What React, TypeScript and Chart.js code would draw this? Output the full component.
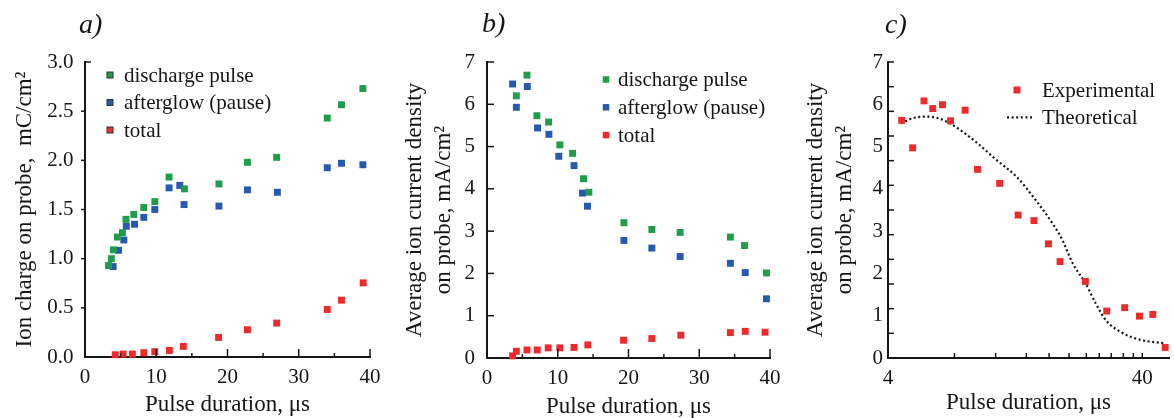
import React, { useEffect, useRef } from 'react';
import { Chart, registerables } from 'chart.js';

Chart.register(...registerables);

const SERIF = "'Liberation Serif', 'DejaVu Serif', 'Times New Roman', serif";
const INK = '#161616';
const GREEN = '#1f9d4b';
const BLUE = '#2659b1';
const RED = '#ee2a2a';

// ---------- Panel a: ion charge on probe (mC/cm²) ----------
const aDischargeX = [3.3, 3.7, 4.0, 4.55, 5.25, 5.75, 6.85, 8.25, 9.8, 11.8, 13.95, 18.8, 22.8, 26.9, 34.0, 36.0, 39.0];
const aDischargeY = [0.93, 1.0, 1.09, 1.22, 1.265, 1.4, 1.45, 1.52, 1.58, 1.83, 1.71, 1.76, 1.98, 2.03, 2.43, 2.565, 2.73];
const aAfterglowX = [3.95, 4.7, 5.45, 5.8, 6.95, 8.25, 9.8, 11.8, 13.3, 13.9, 18.8, 22.8, 27.0, 34.0, 36.0, 39.0];
const aAfterglowY = [0.92, 1.085, 1.19, 1.33, 1.35, 1.42, 1.5, 1.72, 1.745, 1.55, 1.535, 1.7, 1.675, 1.925, 1.97, 1.955];
const aTotalX = [4.25, 5.35, 6.65, 8.25, 9.8, 11.85, 13.8, 18.75, 22.8, 26.9, 34.0, 36.0, 39.05];
const aTotalY = [0.023, 0.03, 0.03, 0.044, 0.054, 0.067, 0.108, 0.199, 0.277, 0.345, 0.483, 0.578, 0.754];

// ---------- Panel b: average ion current density (mA/cm²) ----------
const bDischargeX = [4.15, 5.65, 7.05, 8.7, 10.3, 12.1, 13.65, 14.4, 19.35, 23.3, 27.3, 34.4, 36.4, 39.5];
const bDischargeY = [6.2, 6.69, 5.73, 5.58, 5.04, 4.84, 4.24, 3.92, 3.2, 3.04, 2.97, 2.86, 2.66, 2.01];
const bAfterglowX = [3.62, 4.15, 5.7, 7.15, 8.75, 10.15, 12.3, 13.5, 14.2, 19.35, 23.3, 27.3, 34.4, 36.5, 39.5];
const bAfterglowY = [6.48, 5.93, 6.42, 5.44, 5.29, 4.77, 4.55, 3.9, 3.59, 2.78, 2.6, 2.4, 2.24, 2.02, 1.4];
const bTotalX = [3.62, 4.15, 5.65, 7.1, 8.65, 10.3, 12.3, 14.25, 19.3, 23.3, 27.4, 34.4, 36.5, 39.3];
const bTotalY = [0.05, 0.16, 0.19, 0.19, 0.24, 0.24, 0.25, 0.31, 0.42, 0.46, 0.54, 0.6, 0.63, 0.61];

// ---------- Panel c: experimental vs theoretical (log x) ----------
const cExpX = [4.53, 5.0, 5.54, 6.0, 6.55, 7.05, 8.04, 9.0, 11.0, 13.0, 15.0, 17.1, 19.0, 23.9, 29.0, 34.1, 39.0, 44.0, 49.2];
const cExpY = [5.62, 4.97, 6.08, 5.9, 5.99, 5.61, 5.86, 4.46, 4.13, 3.38, 3.25, 2.7, 2.28, 1.81, 1.11, 1.19, 0.99, 1.03, 0.25];
const cTheoX = [4.5, 5.0, 5.7, 6.3, 7.0, 8.7, 10.7, 12.8, 14.9, 17.7, 19.4, 21.3, 23.9, 26.2, 28.7, 33.5, 39.3, 45.3, 48.9];
const cTheoY = [5.55, 5.67, 5.71, 5.67, 5.55, 5.15, 4.68, 4.29, 3.81, 3.19, 2.79, 2.24, 1.77, 1.3, 0.9, 0.59, 0.43, 0.37, 0.35];

// tick labels and tick marks
const abXTickMarks = [5, 10, 15, 20, 25, 30, 35, 40];
const aYTickMarks = [0.5, 1, 1.5, 2, 2.5, 3];
const bYTickMarks = [1, 2, 3, 4, 5, 6, 7];
const cXTickLabels = [4, 40];
const cXTickMarks = [7.3, 10.6, 14.0, 17.2, 20.6, 24.1, 27.1, 30.2, 33.7, 36.9, 40];
const cYTickCount = 12;

const toPts = (xs: number[], ys: number[]) => xs.map((x, i) => ({ x, y: ys[i] }));

type LegendItem = { label: string; color: string; kind: 'rect' | 'dots'; outline?: boolean };
type DecorSpec = {
  label: string;
  labelDx: number;
  labelY: number;
  xTicks: number[][];
  yTicks: number[][];
  legend: LegendItem[];
  legDx: number;
  legDy: number;
  rowH: number;
  textDx: number;
  markSize: number;
};

function makeDecor(spec: DecorSpec) {
  return {
    id: 'decor',
    afterDraw(chart: any) {
      const { ctx, chartArea: ca } = chart;
      const xs = chart.scales.x;
      const ys = chart.scales.y;
      ctx.save();
      ctx.strokeStyle = INK;
      ctx.lineWidth = 1.5;
      for (const [v, len] of spec.xTicks) {
        const px = xs.getPixelForValue(v);
        ctx.beginPath();
        ctx.moveTo(px, ca.bottom);
        ctx.lineTo(px, ca.bottom - len);
        ctx.stroke();
      }
      for (const [v, len] of spec.yTicks) {
        const py = ys.getPixelForValue(v);
        ctx.beginPath();
        ctx.moveTo(ca.left, py);
        ctx.lineTo(ca.left + len, py);
        ctx.stroke();
      }
      ctx.fillStyle = INK;
      ctx.font = `italic 28px ${SERIF}`;
      ctx.textAlign = 'left';
      ctx.textBaseline = 'middle';
      ctx.fillText(spec.label, ca.left + spec.labelDx, spec.labelY);
      ctx.font = `21px ${SERIF}`;
      spec.legend.forEach((it, i) => {
        const mx = ca.left + spec.legDx;
        const my = ca.top + spec.legDy + i * spec.rowH;
        if (it.kind === 'rect') {
          const s = spec.markSize;
          ctx.fillStyle = it.color;
          ctx.fillRect(mx - s / 2, my - s / 2, s, s);
          if (it.outline) {
            ctx.strokeStyle = '#333';
            ctx.lineWidth = 1;
            ctx.strokeRect(mx - s / 2, my - s / 2, s, s);
          }
        } else {
          ctx.strokeStyle = INK;
          ctx.lineWidth = 2.2;
          ctx.setLineDash([2, 2.6]);
          ctx.beginPath();
          ctx.moveTo(mx - 10, my);
          ctx.lineTo(mx + 15, my);
          ctx.stroke();
          ctx.setLineDash([]);
        }
        ctx.fillStyle = INK;
        ctx.fillText(it.label, mx + spec.textDx, my + 1);
      });
      ctx.restore();
    },
  };
}

const pointSet = (label: string, xs: number[], ys: number[], color: string) => ({
  label,
  data: toPts(xs, ys),
  pointStyle: 'rect',
  pointRadius: 4.9,
  pointHoverRadius: 4.9,
  backgroundColor: color,
  borderColor: color,
  borderWidth: 0,
  showLine: false,
  clip: false,
});

const tickFont = { family: SERIF, size: 21 };
const titleFont = { family: SERIF, size: 23, lineHeight: 1.24 };

type Frame = { W: number; H: number; left: number; right: number; top: number; bottom: number };

function axisBase() {
  return {
    grid: { display: false, drawTicks: false },
    border: { display: true, color: INK, width: 2 },
  };
}

function buildConfig(panel: 'a' | 'b' | 'c', frame: Frame): any {
  const xFit = (s: any) => {
    s.height = frame.H - frame.bottom;
  };
  const yFit = (s: any) => {
    s.width = frame.left;
  };
  const common = {
    responsive: false,
    animation: false,
    devicePixelRatio: 1,
    layout: { padding: { left: 0, right: frame.W - frame.right, top: frame.top, bottom: 0 } },
    plugins: { legend: { display: false }, tooltip: { enabled: false }, title: { display: false } },
  };

  if (panel === 'a') {
    return {
      type: 'scatter',
      data: {
        datasets: [
          pointSet('discharge pulse', aDischargeX, aDischargeY, GREEN),
          pointSet('afterglow (pause)', aAfterglowX, aAfterglowY, BLUE),
          pointSet('total', aTotalX, aTotalY, RED),
        ],
      },
      options: {
        ...common,
        scales: {
          x: {
            ...axisBase(),
            type: 'linear',
            min: 0,
            max: 40,
            afterFit: xFit,
            ticks: { stepSize: 10, font: tickFont, color: INK, padding: 8, maxRotation: 0 },
            title: { display: true, text: 'Pulse duration, μs', font: titleFont, color: INK, padding: { top: 0, bottom: -1 } },
          },
          y: {
            ...axisBase(),
            min: 0,
            max: 3,
            afterFit: yFit,
            ticks: { stepSize: 0.5, font: tickFont, color: INK, padding: 11.5, callback: (v: any) => Number(v).toFixed(1) },
            title: { display: true, text: 'Ion charge on probe,  mC/cm²', font: titleFont, color: INK, padding: { top: 11, bottom: 0 } },
          },
        },
      },
      plugins: [
        makeDecor({
          label: 'a)',
          labelDx: -6,
          labelY: 26,
          xTicks: abXTickMarks.map((v) => [v, v % 10 === 0 ? 8 : 4]),
          yTicks: aYTickMarks.map((v) => [v, v === 3 ? 6 : -4]),
          legend: [
            { label: 'discharge pulse', color: GREEN, kind: 'rect', outline: true },
            { label: 'afterglow (pause)', color: BLUE, kind: 'rect', outline: true },
            { label: 'total', color: RED, kind: 'rect', outline: true },
          ],
          legDx: 25,
          legDy: 13,
          rowH: 27.5,
          textDx: 14,
          markSize: 6,
        }),
      ],
    };
  }

  if (panel === 'b') {
    return {
      type: 'scatter',
      data: {
        datasets: [
          pointSet('discharge pulse', bDischargeX, bDischargeY, GREEN),
          pointSet('afterglow (pause)', bAfterglowX, bAfterglowY, BLUE),
          pointSet('total', bTotalX, bTotalY, RED),
        ],
      },
      options: {
        ...common,
        scales: {
          x: {
            ...axisBase(),
            type: 'linear',
            min: 0,
            max: 40,
            afterFit: xFit,
            ticks: { stepSize: 10, font: tickFont, color: INK, padding: 8, maxRotation: 0 },
            title: { display: true, text: 'Pulse duration, μs', font: titleFont, color: INK, padding: { top: 0, bottom: -3 } },
          },
          y: {
            ...axisBase(),
            min: 0,
            max: 7,
            afterFit: yFit,
            ticks: { stepSize: 1, font: tickFont, color: INK, padding: 12 },
            title: {
              display: true,
              text: ['Average ion current density', 'on probe, mA/cm²'],
              font: titleFont,
              color: INK,
              padding: { top: 11, bottom: 0 },
            },
          },
        },
      },
      plugins: [
        makeDecor({
          label: 'b)',
          labelDx: -5,
          labelY: 25,
          xTicks: abXTickMarks.map((v) => [v, v % 10 === 0 ? 9 : 4]),
          yTicks: bYTickMarks.map((v) => [v, 7]),
          legend: [
            { label: 'discharge pulse', color: GREEN, kind: 'rect' },
            { label: 'afterglow (pause)', color: BLUE, kind: 'rect' },
            { label: 'total', color: RED, kind: 'rect' },
          ],
          legDx: 119,
          legDy: 17.5,
          rowH: 27.8,
          textDx: 12,
          markSize: 6.5,
        }),
      ],
    };
  }

  const cYMarks: number[][] = [];
  for (let k = 1; k <= cYTickCount; k++) cYMarks.push([(7 * k) / cYTickCount, 6]);
  return {
    type: 'scatter',
    data: {
      datasets: [
        pointSet('Experimental', cExpX, cExpY, RED),
        {
          label: 'Theoretical',
          data: toPts(cTheoX, cTheoY),
          showLine: true,
          pointRadius: 0,
          borderColor: INK,
          borderWidth: 2.2,
          borderDash: [2, 2.6],
          cubicInterpolationMode: 'monotone',
          fill: false,
          clip: false,
        },
      ],
    },
    options: {
      ...common,
      scales: {
        x: {
          ...axisBase(),
          type: 'logarithmic',
          min: 4,
          max: 51,
          afterFit: xFit,
          afterBuildTicks: (s: any) => {
            s.ticks = cXTickLabels.map((v) => ({ value: v }));
          },
          ticks: { font: tickFont, color: INK, padding: 8, maxRotation: 0, autoSkip: false, callback: (v: any) => String(v) },
          title: { display: true, text: 'Pulse duration, μs', font: titleFont, color: INK, padding: { top: 0, bottom: 1 } },
        },
        y: {
          ...axisBase(),
          min: 0,
          max: 7,
          afterFit: yFit,
          ticks: { stepSize: 1, font: tickFont, color: INK, padding: 5 },
          title: {
            display: true,
            text: ['Average ion current density', 'on probe, mA/cm²'],
            font: { family: SERIF, size: 23, lineHeight: 1.26 },
            color: INK,
            padding: { top: 21, bottom: 0 },
          },
        },
      },
    },
    plugins: [
      makeDecor({
        label: 'c)',
        labelDx: -3,
        labelY: 26,
        xTicks: cXTickMarks.map((v) => [v, 5]),
        yTicks: cYMarks,
        legend: [
          { label: 'Experimental', color: RED, kind: 'rect' },
          { label: 'Theoretical', color: INK, kind: 'dots' },
        ],
        legDx: 129,
        legDy: 28,
        rowH: 27.3,
        textDx: 25,
        markSize: 7,
      }),
    ],
  };
}

function Panel({ panel, x, frame }: { panel: 'a' | 'b' | 'c'; x: number; frame: Frame }) {
  const ref = useRef<HTMLCanvasElement | null>(null);
  useEffect(() => {
    if (!ref.current) return;
    const chart = new Chart(ref.current, buildConfig(panel, frame));
    return () => chart.destroy();
  }, [panel]);
  return (
    <canvas
      ref={ref}
      width={frame.W}
      height={frame.H}
      style={{ position: 'absolute', left: x, top: 0, width: frame.W, height: frame.H }}
    />
  );
}

export default function App() {
  return (
    <div style={{ position: 'absolute', left: 0, top: 0, width: 1174, height: 418, background: '#fff', overflow: 'hidden' }}>
      <Panel panel="a" x={0} frame={{ W: 390, H: 418, left: 85, right: 370, top: 62, bottom: 357 }} />
      <Panel panel="b" x={390} frame={{ W: 400, H: 418, left: 97, right: 380, top: 62, bottom: 358 }} />
      <Panel panel="c" x={780} frame={{ W: 394, H: 418, left: 108, right: 390, top: 62, bottom: 358 }} />
    </div>
  );
}
